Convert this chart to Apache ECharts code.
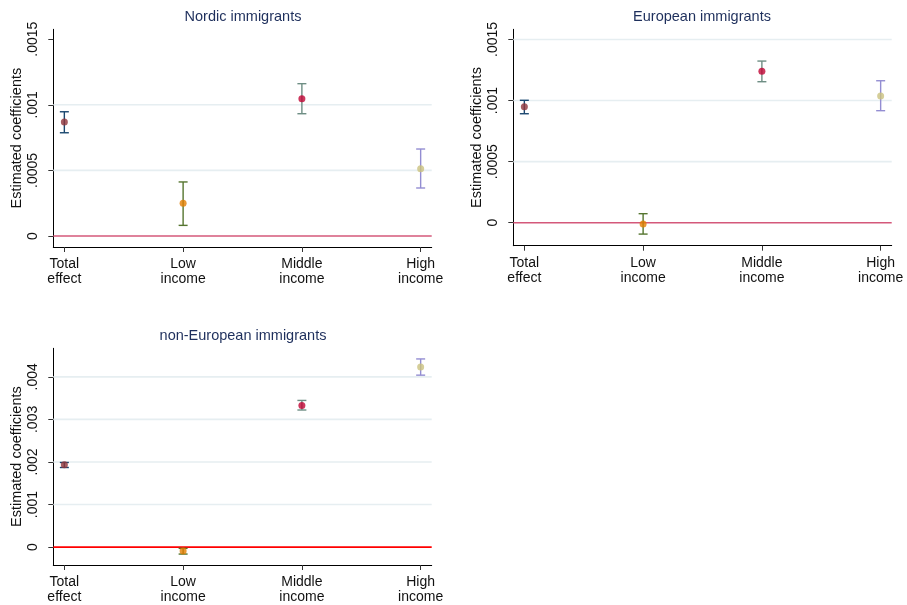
<!DOCTYPE html>
<html>
<head>
<meta charset="utf-8">
<script src="https://cdn.jsdelivr.net/npm/echarts@6/dist/echarts.min.js"></script>
<style>
  html, body { margin: 0; padding: 0; background: #fff; }
  #chart { width: 907px; height: 605px; }
</style>
</head>
<body>
<div id="chart"></div>
<script>
// Coefficient positions on the x axis and their labels
const positions = [1, 2, 3, 4];
const categoryLabels = ['Total\neffect', 'Low\nincome', 'Middle\nincome', 'High\nincome'];

// Nordic immigrants: estimate, lower and upper confidence bounds
const nordicEst = [0.000869, 0.000249, 0.001047, 0.000513];
const nordicLo  = [0.000787, 0.000081, 0.000932, 0.000366];
const nordicHi  = [0.000947, 0.000412, 0.001161, 0.000663];

// European immigrants
const europeanEst = [0.000949, -0.000011, 0.001239, 0.001037];
const europeanLo  = [0.000892, -0.000093, 0.001154, 0.000917];
const europeanHi  = [0.001002, 0.000074, 0.001323, 0.001162];

// non-European immigrants
const nonEuropeanEst = [0.001935, -0.000094, 0.003329, 0.004234];
const nonEuropeanLo  = [0.001870, -0.000164, 0.003221, 0.004040];
const nonEuropeanHi  = [0.001988, -0.000030, 0.003446, 0.004421];

// y-axis tick values and labels
const ticksSmall = [0, 0.0005, 0.001, 0.0015];
const ticksSmallLabels = ['0', '.0005', '.001', '.0015'];
const ticksLarge = [0, 0.001, 0.002, 0.003, 0.004];
const ticksLargeLabels = ['0', '.001', '.002', '.003', '.004'];

// gridline values per panel
const nordicGrid = [0.0005, 0.001];
const europeanGrid = [0.0005, 0.001, 0.0015];
const nonEuropeanGrid = [0.001, 0.002, 0.003, 0.004];

const panelTitles = ['Nordic immigrants', 'European immigrants', 'non-European immigrants'];

// Per-coefficient colours: point fill and confidence-interval colour
const pointColors = ['#90353b', '#e37e00', '#c10534', '#cac27e'];
const ciColors = ['#1a476f', '#55752f', '#6e8e84', '#938dd2'];

const FONT = 'Liberation Sans, Arial, sans-serif';
const X_MIN = 0.907, X_MAX = 4.093;

const panels = [
  { est: nordicEst, lo: nordicLo, hi: nordicHi, ticks: ticksSmall, labels: ticksSmallLabels, gridVals: nordicGrid,
    grid: { left: 53.3, top: 29.3, width: 378.4, height: 217.7 }, yMin: -0.0000838, yMax: 0.0015755,
    refColor: '#d4587a', titleX: 243, titleY: 9 },
  { est: europeanEst, lo: europeanLo, hi: europeanHi, ticks: ticksSmall, labels: ticksSmallLabels, gridVals: europeanGrid,
    grid: { left: 513.3, top: 29.3, width: 378.4, height: 216.4 }, yMin: -0.000188, yMax: 0.001583,
    refColor: '#d4587a', titleX: 702, titleY: 9 },
  { est: nonEuropeanEst, lo: nonEuropeanLo, hi: nonEuropeanHi, ticks: ticksLarge, labels: ticksLargeLabels, gridVals: nonEuropeanGrid,
    grid: { left: 53.3, top: 348.3, width: 378.4, height: 217.7 }, yMin: -0.000421, yMax: 0.004671,
    refColor: '#ff0000', titleX: 243, titleY: 328 }
];

// Draws a full-width horizontal line at a y value of the panel
function hLineRenderer(color, width) {
  return (params, api) => {
    const y = api.value(0);
    const a = api.coord([X_MIN, y]);
    const b = api.coord([X_MAX, y]);
    return {
      type: 'line',
      shape: { x1: a[0], y1: a[1], x2: b[0], y2: b[1] },
      style: { stroke: color, lineWidth: width }
    };
  };
}

const option = {
  animation: false,
  backgroundColor: '#ffffff',
  title: panels.map((p, i) => ({
    text: panelTitles[i],
    left: p.titleX,
    top: p.titleY,
    textAlign: 'center',
    padding: 0,
    textStyle: { fontFamily: FONT, fontSize: 14.5, fontWeight: 'normal', color: '#1e2f5c' }
  })),
  grid: panels.map(p => Object.assign({ containLabel: false }, p.grid)),
  xAxis: panels.map((p, i) => ({
    type: 'value',
    gridIndex: i,
    min: X_MIN,
    max: X_MAX,
    splitLine: { show: false },
    axisLine: { show: true, onZero: false, lineStyle: { color: '#000', width: 1 } },
    axisTick: { show: true, customValues: positions, length: 5, lineStyle: { color: '#333' } },
    axisLabel: {
      customValues: positions,
      formatter: v => categoryLabels[Math.round(v) - 1],
      fontFamily: FONT, fontSize: 14, color: '#111', lineHeight: 15, margin: 10
    }
  })),
  yAxis: panels.map((p, i) => ({
    type: 'value',
    gridIndex: i,
    min: p.yMin,
    max: p.yMax,
    name: 'Estimated coefficients',
    nameLocation: 'middle',
    nameGap: 29,
    nameTextStyle: { fontFamily: FONT, fontSize: 14.5, color: '#111' },
    splitLine: { show: false },
    axisLine: { show: true, onZero: false, lineStyle: { color: '#000', width: 1 } },
    axisTick: { show: true, customValues: p.ticks, length: 5, lineStyle: { color: '#333' } },
    axisLabel: {
      customValues: p.ticks,
      formatter: v => p.labels[p.ticks.findIndex(t => Math.abs(t - v) < 1e-9)],
      rotate: 90,
      margin: 13,
      fontFamily: FONT, fontSize: 14, color: '#111'
    }
  })),
  series: []
};

panels.forEach((p, i) => {
  // Light horizontal gridlines
  option.series.push({
    type: 'custom',
    xAxisIndex: i, yAxisIndex: i,
    silent: true,
    z: 1,
    clip: false,
    data: p.gridVals.map(t => [t]),
    renderItem: hLineRenderer('#e6eef1', 1.6)
  });
  // Zero reference line
  option.series.push({
    type: 'custom',
    xAxisIndex: i, yAxisIndex: i,
    silent: true,
    z: 2,
    clip: false,
    data: [[0]],
    renderItem: hLineRenderer(p.refColor, 1.6)
  });
  // Confidence intervals with caps
  option.series.push({
    type: 'custom',
    xAxisIndex: i, yAxisIndex: i,
    z: 3,
    silent: true,
    data: positions.map((x, k) => [x, p.lo[k], p.hi[k], k]),
    renderItem: (params, api) => {
      const x = api.value(0);
      const lo = api.coord([x, api.value(1)]);
      const hi = api.coord([x, api.value(2)]);
      const color = ciColors[api.value(3)];
      const cap = 4.5;
      const style = { stroke: color, lineWidth: 1.4, fill: null };
      return {
        type: 'group',
        children: [
          { type: 'line', shape: { x1: lo[0], y1: lo[1], x2: hi[0], y2: hi[1] }, style },
          { type: 'line', shape: { x1: lo[0] - cap, y1: lo[1], x2: lo[0] + cap, y2: lo[1] }, style },
          { type: 'line', shape: { x1: hi[0] - cap, y1: hi[1], x2: hi[0] + cap, y2: hi[1] }, style }
        ]
      };
    }
  });
  // Point estimates
  option.series.push({
    type: 'scatter',
    xAxisIndex: i, yAxisIndex: i,
    z: 4,
    symbol: 'circle',
    symbolSize: 7,
    data: positions.map((x, k) => ({ value: [x, p.est[k]], itemStyle: { color: pointColors[k] } }))
  });
});

const chart = echarts.init(document.getElementById('chart'), null, { renderer: 'canvas' });
chart.setOption(option);
</script>
</body>
</html>
